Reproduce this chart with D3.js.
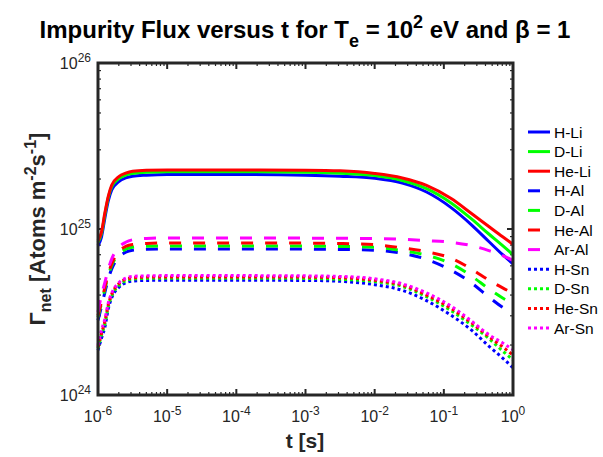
<!DOCTYPE html>
<html>
<head>
<meta charset="utf-8">
<title></title>
<script src="https://d3js.org/d3.v7.min.js"></script>
<style>
  html, body { margin: 0; padding: 0; background: #fff; }
  text { font-family: "Liberation Sans", Arial, sans-serif; }
</style>
</head>
<body>
<div id="chart"></div>
<script>
// time grid [s]
const time = [1e-6, 1.12e-6, 1.26e-6, 1.41e-6, 1.58e-6, 2.0e-6, 2.51e-6, 3.16e-6, 5.01e-6, 1e-5,
  1e-4, 1e-3, 3.16e-3, 1e-2, 2.51e-2, 5.62e-2, 0.126, 0.251, 0.447, 0.708, 1];

// net impurity flux [atoms m^-2 s^-1]
const hLi = [7.94e24, 8.91e24, 11.7e24, 14.8e24, 17.2e24, 19.3e24, 20.3e24, 20.8e24, 21.1e24, 21.3e24,
  21.3e24, 21.1e24, 20.8e24, 20.2e24, 18.9e24, 16.7e24, 13.5e24, 10.6e24, 8.41e24, 7.00e24, 6.17e24];
const dLi = [8.32e24, 9.33e24, 12.3e24, 15.5e24, 18.0e24, 20.1e24, 21.1e24, 21.6e24, 22.0e24, 22.1e24,
  22.1e24, 22.0e24, 21.7e24, 21.0e24, 19.6e24, 17.5e24, 14.4e24, 11.5e24, 9.33e24, 7.94e24, 7.00e24];
const heLi = [8.51e24, 9.55e24, 12.6e24, 15.8e24, 18.4e24, 20.7e24, 21.7e24, 22.3e24, 22.6e24, 22.7e24,
  22.7e24, 22.6e24, 22.4e24, 21.6e24, 20.3e24, 18.3e24, 15.3e24, 12.4e24, 10.35e24, 8.97e24, 8.09e24];
const hAl = [2.82e24, 3.39e24, 4.17e24, 5.01e24, 5.75e24, 6.76e24, 7.24e24, 7.45e24, 7.55e24, 7.59e24,
  7.59e24, 7.57e24, 7.53e24, 7.45e24, 7.14e24, 6.56e24, 5.66e24, 4.73e24, 3.89e24, 3.37e24, 3.09e24];
const dAl = [2.95e24, 3.55e24, 4.37e24, 5.25e24, 6.03e24, 7.08e24, 7.55e24, 7.76e24, 7.87e24, 7.91e24,
  7.91e24, 7.89e24, 7.85e24, 7.76e24, 7.41e24, 6.95e24, 6.19e24, 5.21e24, 4.36e24, 3.84e24, 3.55e24];
const heAl = [3.02e24, 3.63e24, 4.47e24, 5.37e24, 6.17e24, 7.33e24, 7.85e24, 8.07e24, 8.18e24, 8.24e24,
  8.24e24, 8.22e24, 8.18e24, 8.04e24, 7.70e24, 7.30e24, 6.68e24, 5.74e24, 4.92e24, 4.42e24, 4.11e24];
const arAl = [3.16e24, 3.98e24, 4.79e24, 5.75e24, 6.61e24, 7.76e24, 8.32e24, 8.61e24, 8.77e24, 8.83e24,
  8.83e24, 8.81e24, 8.79e24, 8.75e24, 8.67e24, 8.51e24, 8.32e24, 7.94e24, 7.41e24, 6.92e24, 6.46e24];
const hSn = [1.86e24, 2.19e24, 2.57e24, 3.31e24, 3.85e24, 4.45e24, 4.74e24, 4.85e24, 4.90e24, 4.91e24,
  4.91e24, 4.90e24, 4.84e24, 4.62e24, 4.27e24, 3.70e24, 3.03e24, 2.46e24, 1.97e24, 1.67e24, 1.46e24];
const dSn = [1.91e24, 2.29e24, 2.69e24, 3.43e24, 3.95e24, 4.57e24, 4.88e24, 4.99e24, 5.04e24, 5.05e24,
  5.05e24, 5.04e24, 4.98e24, 4.82e24, 4.51e24, 3.91e24, 3.23e24, 2.64e24, 2.19e24, 1.84e24, 1.63e24];
const heSn = [1.95e24, 2.34e24, 2.79e24, 3.51e24, 4.05e24, 4.68e24, 4.98e24, 5.08e24, 5.13e24, 5.14e24,
  5.14e24, 5.13e24, 5.09e24, 4.91e24, 4.59e24, 4.00e24, 3.33e24, 2.72e24, 2.25e24, 1.95e24, 1.74e24];
const arSn = [2.00e24, 2.45e24, 2.88e24, 3.59e24, 4.12e24, 4.75e24, 5.06e24, 5.18e24, 5.22e24, 5.24e24,
  5.24e24, 5.22e24, 5.18e24, 5.01e24, 4.67e24, 4.12e24, 3.44e24, 2.79e24, 2.31e24, 2.06e24, 1.87e24];

const seriesNames = ["H-Li", "D-Li", "He-Li", "H-Al", "D-Al", "He-Al", "Ar-Al", "H-Sn", "D-Sn", "He-Sn", "Ar-Sn"];
const seriesValues = [hLi, dLi, heLi, hAl, dAl, heAl, arAl, hSn, dSn, heSn, arSn];

const xTickExps = [-6, -5, -4, -3, -2, -1, 0];
const yTickExps = [24, 25, 26];

// styles
const colorOf = { "H": "#0000ff", "D": "#00ff00", "He": "#ff0000", "Ar": "#ff00ff" };
const dashOf = { "Li": null, "Al": "12,12", "Sn": "3,3" };

const W = 603, H = 457;
const plot = { left: 98, right: 513, top: 63, bottom: 395 };
const axisColor = "#262626";

const svg = d3.select("#chart").append("svg")
  .attr("width", W).attr("height", H);

svg.append("rect").attr("width", W).attr("height", H).attr("fill", "#fff");

const x = d3.scaleLog().domain([1e-6, 1]).range([plot.left, plot.right]);
const y = d3.scaleLog().domain([1e24, 1e26]).range([plot.bottom, plot.top]);

// minor + major ticks, inward on all four sides
const ticks = svg.append("g").attr("stroke", axisColor);
for (let e = -6; e <= 0; e++) {
  for (let m = 1; m <= 9; m++) {
    const v = m * Math.pow(10, e);
    if (v > 1) break;
    const px = x(v), len = m === 1 ? 6 : 3;
    ticks.append("line").attr("x1", px).attr("x2", px).attr("y1", plot.bottom).attr("y2", plot.bottom - len)
      .attr("stroke-width", m === 1 ? 2 : 1.2);
    ticks.append("line").attr("x1", px).attr("x2", px).attr("y1", plot.top).attr("y2", plot.top + len)
      .attr("stroke-width", m === 1 ? 2 : 1.2);
  }
}
for (let e = 24; e <= 26; e++) {
  for (let m = 1; m <= 9; m++) {
    const v = m * Math.pow(10, e);
    if (v > 1e26) break;
    const py = y(v), len = m === 1 ? 6 : 3;
    ticks.append("line").attr("y1", py).attr("y2", py).attr("x1", plot.left).attr("x2", plot.left + len)
      .attr("stroke-width", m === 1 ? 2 : 1.2);
    ticks.append("line").attr("y1", py).attr("y2", py).attr("x1", plot.right).attr("x2", plot.right - len)
      .attr("stroke-width", m === 1 ? 2 : 1.2);
  }
}

// data lines
const line = d3.line()
  .x((d, i) => x(time[i]))
  .y(d => y(d))
  .curve(d3.curveMonotoneX);

const lines = svg.append("g");
seriesNames.forEach((name, k) => {
  const [gas, wall] = name.split("-");
  lines.append("path")
    .datum(seriesValues[k])
    .attr("fill", "none")
    .attr("stroke", colorOf[gas])
    .attr("stroke-width", 3)
    .attr("stroke-dasharray", dashOf[wall])
    .attr("d", line);
});

// axes box
svg.append("rect")
  .attr("x", plot.left).attr("y", plot.top)
  .attr("width", plot.right - plot.left).attr("height", plot.bottom - plot.top)
  .attr("fill", "none").attr("stroke", axisColor).attr("stroke-width", 3);

// tick labels
xTickExps.forEach(e => {
  const t = svg.append("text")
    .attr("x", x(Math.pow(10, e))).attr("y", 422)
    .attr("text-anchor", "middle").attr("fill", axisColor).style("font-size", "16px");
  t.append("tspan").text("10");
  t.append("tspan").attr("dy", -7).style("font-size", "12px").text(e === 0 ? "0" : "-" + Math.abs(e));
});
yTickExps.forEach(e => {
  const t = svg.append("text")
    .attr("x", 91).attr("y", y(Math.pow(10, e)) + 6)
    .attr("text-anchor", "end").attr("fill", axisColor).style("font-size", "16px");
  t.append("tspan").text("10");
  t.append("tspan").attr("dy", -7).style("font-size", "12px").text(e);
});

// title
const title = svg.append("text")
  .attr("x", 305).attr("y", 38).attr("text-anchor", "middle")
  .style("font-size", "24px").style("font-weight", "bold").attr("fill", "#000");
title.append("tspan").text("Impurity Flux versus t for T");
title.append("tspan").attr("dy", 9).style("font-size", "18px").text("e");
title.append("tspan").attr("dy", -9).text(" = 10");
title.append("tspan").attr("dy", -10).style("font-size", "18px").text("2");
title.append("tspan").attr("dy", 10).text(" eV and \u03b2 = 1");

// x label
svg.append("text")
  .attr("x", 305).attr("y", 448).attr("text-anchor", "middle")
  .style("font-size", "21px").style("font-weight", "bold").attr("fill", axisColor)
  .text("t [s]");

// y label
const yl = svg.append("text")
  .attr("transform", "translate(45,229) rotate(-90)")
  .attr("text-anchor", "middle")
  .style("font-size", "22px").style("font-weight", "bold").attr("fill", axisColor);
yl.append("tspan").text("\u0393");
yl.append("tspan").attr("dy", 6).style("font-size", "16px").text("net");
yl.append("tspan").attr("dy", -6).text(" [Atoms m");
yl.append("tspan").attr("dy", -9).style("font-size", "16px").text("-2");
yl.append("tspan").attr("dy", 9).text("s");
yl.append("tspan").attr("dy", -9).style("font-size", "16px").text("-1");
yl.append("tspan").attr("dy", 9).text("]");

// legend
const legend = svg.append("g").attr("transform", "translate(528,132)");
seriesNames.forEach((name, i) => {
  const [gas, wall] = name.split("-");
  const row = legend.append("g").attr("transform", `translate(0,${i * 19.6})`);
  row.append("line")
    .attr("x1", 0).attr("x2", 22).attr("y1", 0).attr("y2", 0)
    .attr("stroke", colorOf[gas]).attr("stroke-width", 3)
    .attr("stroke-dasharray", dashOf[wall]);
  row.append("text")
    .attr("x", 26).attr("y", 5.5)
    .style("font-size", "15.5px").attr("fill", "#000")
    .text(name);
});
</script>
</body>
</html>
